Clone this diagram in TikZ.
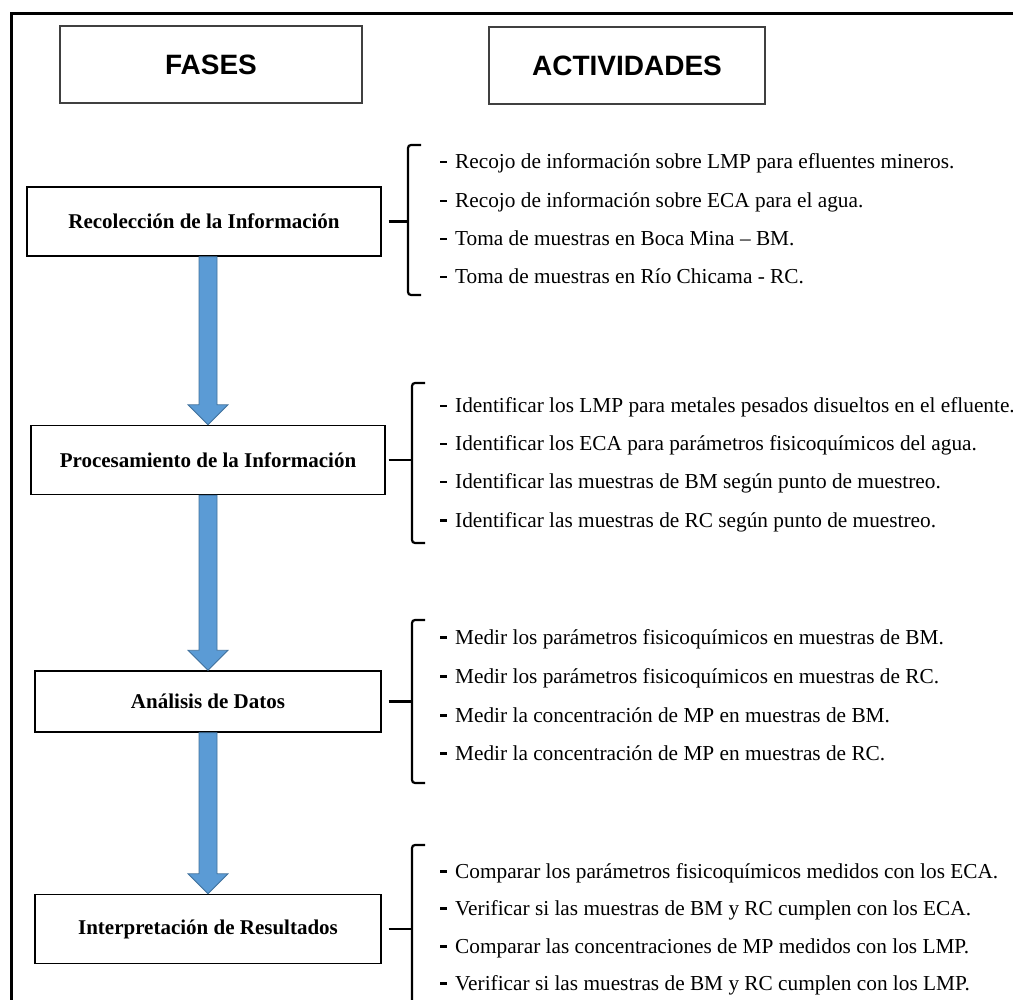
\documentclass[tikz,border=0pt]{standalone}
\usepackage{fontspec}
\setmainfont{Liberation Serif}
\newfontfamily\encfont{Liberation Sans}
\usetikzlibrary{calc}

\definecolor{azulflecha}{HTML}{5B9BD5}
\definecolor{bordeflecha}{HTML}{41719C}
\newcommand{\guion}{\rule[5.5pt]{6.5pt}{2.4pt}\hspace{8.5pt}}

\tikzset{
  encabezado/.style={draw=black!75, line width=1.2pt, minimum width=302pt, minimum height=77pt,
    font=\encfont\bfseries\fontsize{28}{32}\selectfont},
  fase/.style={draw, line width=1.4pt, minimum width=354pt, minimum height=69pt,
    font=\bfseries\fontsize{21}{25}\selectfont},
  actividad/.style={anchor=west, inner sep=0pt, text height=16pt, text depth=4pt,
    font=\fontsize{21.3}{25}\selectfont},
  llave/.style={line width=2.2pt, rounded corners=3pt},
  flecha/.style={fill=azulflecha, draw=bordeflecha, line width=0.8pt}
}

\begin{document}
\begin{tikzpicture}[x=1pt, y=-1pt]
        \useasboundingbox (0,0) rectangle (1013,1000);
        \draw[line width=3pt] (11.5,1000) -- (11.5,13.5) -- (1013,13.5); % marco

        \node[encabezado] (fases) at (211,64.5) {FASES};
        \node[encabezado, minimum width=276pt] (activ) at (627,65.5) {ACTIVIDADES};

        \node[fase] (rec) at (204,221.5) {Recolección de la Información};
        \node[fase] (proc) at (208,460) {Procesamiento de la Información};
        \node[fase, minimum width=346pt, minimum height=61pt] (ana) at (208,701.5) {Análisis de Datos};
        \node[fase, minimum width=346pt] (interp) at (208,929) {Interpretación de Resultados};

        \filldraw[flecha] ($(rec.south -| proc.north)+(-9,0)$) -- ($(proc.north)+(-9,-20)$) -- ++(-11,0)
                -- (proc.north) -- ++(20,-20) -- ++(-11,0) -- ($(rec.south -| proc.north)+(9,0)$) -- cycle; % rec -> proc
        \filldraw[flecha] ($(proc.south)+(-9,0)$) -- ($(ana.north)+(-9,-20)$) -- ++(-11,0)
                -- (ana.north) -- ++(20,-20) -- ++(-11,0) -- ($(proc.south)+(9,0)$) -- cycle; % proc -> ana
        \filldraw[flecha] ($(ana.south)+(-9,0)$) -- ($(interp.north)+(-9,-20)$) -- ++(-11,0)
                -- (interp.north) -- ++(20,-20) -- ++(-11,0) -- ($(ana.south)+(9,0)$) -- cycle; % ana -> interp

        \draw[llave] (421,145) -- (408,145) -- (408,295) -- (421,295); % llave 1
        \draw[llave] ($(rec.east)+(7,0)$) -- ++(20,0);
        \draw[llave] (425,383) -- (412,383) -- (412,543) -- (425,543); % llave 2
        \draw[llave] ($(proc.east)+(3,0)$) -- ++(24,0);
        \draw[llave] (425,620) -- (412,620) -- (412,783) -- (425,783); % llave 3
        \draw[llave] ($(ana.east)+(7,0)$) -- ++(24,0);
        \draw[llave] (425,845) -- (412,845) -- (412,1012) -- (425,1012); % llave 4
        \draw[llave] ($(interp.east)+(7,0)$) -- ++(24,0);

        \node[actividad] (r1) at (440,163) {\guion Recojo de información sobre LMP para efluentes mineros.};
        \node[actividad] (r2) at (440,202) {\guion Recojo de información sobre ECA para el agua.};
        \node[actividad] (r3) at (440,240) {\guion Toma de muestras en Boca Mina – BM.};
        \node[actividad] (r4) at (440,278) {\guion Toma de muestras en Río Chicama - RC.};

        \node[actividad] (p1) at (440,407) {\guion Identificar los LMP para metales pesados disueltos en el efluente.};
        \node[actividad] (p2) at (440,445) {\guion Identificar los ECA para parámetros fisicoquímicos del agua.};
        \node[actividad] (p3) at (440,483) {\guion Identificar las muestras de BM según punto de muestreo.};
        \node[actividad] (p4) at (440,521) {\guion Identificar las muestras de RC según punto de muestreo.};

        \node[actividad] (a1) at (440,638) {\guion Medir los parámetros fisicoquímicos en muestras de BM.};
        \node[actividad] (a2) at (440,677) {\guion Medir los parámetros fisicoquímicos en muestras de RC.};
        \node[actividad] (a3) at (440,716) {\guion Medir la concentración de MP en muestras de BM.};
        \node[actividad] (a4) at (440,754) {\guion Medir la concentración de MP en muestras de RC.};

        \node[actividad] (i1) at (440,872) {\guion Comparar los parámetros fisicoquímicos medidos con los ECA.};
        \node[actividad] (i2) at (440,909) {\guion Verificar si las muestras de BM y RC cumplen con los ECA.};
        \node[actividad] (i3) at (440,947) {\guion Comparar las concentraciones de MP medidos con los LMP.};
        \node[actividad] (i4) at (440,984) {\guion Verificar si las muestras de BM y RC cumplen con los LMP.};
\end{tikzpicture}
\end{document}
